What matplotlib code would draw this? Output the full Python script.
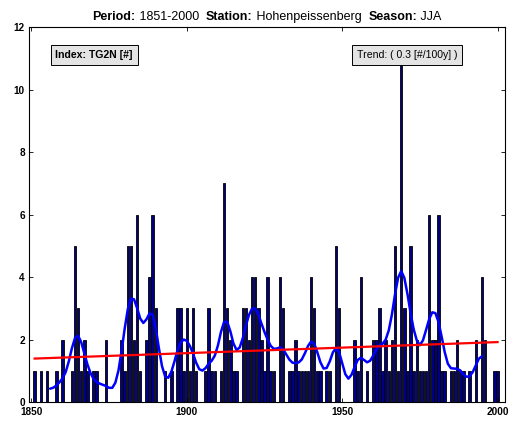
import numpy as np
import matplotlib
matplotlib.use("Agg")
import matplotlib.pyplot as plt
from matplotlib.offsetbox import TextArea, HPacker, AnchoredOffsetbox

plt.rcParams['font.family'] = ['Liberation Sans', 'DejaVu Sans']

years = list(range(1851, 2001))
values = [
    # 1851-1860
    1, 0, 1, 0, 1, 0, 0, 1, 0, 2,
    # 1861-1870
    0, 0, 1, 5, 3, 1, 2, 1, 0, 1,
    # 1871-1880
    1, 0, 0, 2, 0, 0, 0, 0, 2, 1,
    # 1881-1890
    5, 5, 2, 6, 1, 0, 2, 4, 6, 3,
    # 1891-1900
    0, 0, 1, 0, 1, 0, 3, 3, 1, 3,
    # 1901-1910
    1, 3, 1, 0, 0, 1, 3, 1, 1, 0,
    # 1911-1920
    1, 7, 3, 2, 1, 1, 0, 3, 3, 2,
    # 1921-1930
    4, 4, 3, 2, 1, 4, 1, 1, 0, 4,
    # 1931-1940
    3, 0, 1, 1, 2, 1, 1, 1, 1, 4,
    # 1941-1950
    3, 1, 1, 0, 1, 1, 0, 5, 3, 0,
    # 1951-1960
    0, 0, 0, 2, 1, 4, 0, 1, 0, 2,
    # 1961-1970
    2, 3, 1, 2, 1, 2, 5, 1, 11, 3,
    # 1971-1980
    1, 5, 1, 2, 1, 1, 1, 6, 2, 2,
    # 1981-1990
    6, 1, 1, 0, 1, 1, 2, 1, 1, 0,
    # 1991-2000
    1, 0, 2, 0, 4, 2, 0, 0, 1, 1,
]
xticks = [1850, 1900, 1950, 2000]
yticks = [0, 2, 4, 6, 8, 10, 12]
index_label = "Index: TG2N [#]"
trend_label = "Trend: ( 0.3 [#/100y] )"
title_parts = [("Period:", "bold"), (" 1851-2000  ", "normal"),
               ("Station:", "bold"), (" Hohenpeissenberg  ", "normal"),
               ("Season:", "bold"), (" JJA", "normal")]

yrs = np.array(years, dtype=float)
vals = np.array(values, dtype=float)

# Gaussian low-pass filter (sigma 2 y, window +-5 y)
half = 5
k = np.exp(-0.5 * (np.arange(-half, half + 1) / 2.0) ** 2)
k /= k.sum()
smooth = np.convolve(vals, k, mode='valid')
smooth_years = yrs[half:-half]

# linear trend
p = np.polyfit(yrs, vals, 1)
trend = np.polyval(p, yrs)

fig = plt.figure(figsize=(5.13, 4.23), dpi=100)
ax = fig.add_axes([29 / 513, 21 / 423, (505 - 29) / 513, (402 - 27) / 423])

ax.bar(yrs, vals, width=0.8, color=(0, 0, 0.5), edgecolor='black', linewidth=0.6)
ax.plot(smooth_years, smooth, color=(0, 0, 1), linewidth=1.8, solid_capstyle='round')
ax.plot(yrs, trend, color=(1, 0, 0), linewidth=1.6)

ax.set_xlim(1849.2, 2002.4)
ax.set_ylim(0, 12)
ax.set_xticks(xticks)
ax.set_yticks(yticks)
ax.set_xticklabels([str(t) for t in xticks], fontweight='bold', fontsize=7.2)
ax.set_yticklabels([str(t) for t in yticks], fontweight='bold', fontsize=7.2)
ax.tick_params(direction='in', length=3, width=0.6, top=True, right=True)
ax.tick_params(axis='x', pad=3.5)
ax.tick_params(axis='y', pad=3)
for s in ax.spines.values():
    s.set_linewidth(0.8)

box = dict(boxstyle='square,pad=0.45', facecolor='#e4e4e4', edgecolor='black', linewidth=0.7)
ax.text(0.137, 0.925, index_label, transform=ax.transAxes, ha='center', va='center',
        fontsize=7.6, fontweight='bold', bbox=box)
ax.text(0.794, 0.925, trend_label, transform=ax.transAxes, ha='center', va='center',
        fontsize=7.6, bbox=box)

areas = [TextArea(t, textprops=dict(fontsize=9, fontweight=w)) for t, w in title_parts]
pack = HPacker(children=areas, align='baseline', pad=0, sep=0)
anch = AnchoredOffsetbox(loc='lower center', child=pack, pad=0, frameon=False,
                         bbox_to_anchor=(0.5, 1.012), bbox_transform=ax.transAxes, borderpad=0)
ax.add_artist(anch)

fig.savefig('out.png', dpi=100)
